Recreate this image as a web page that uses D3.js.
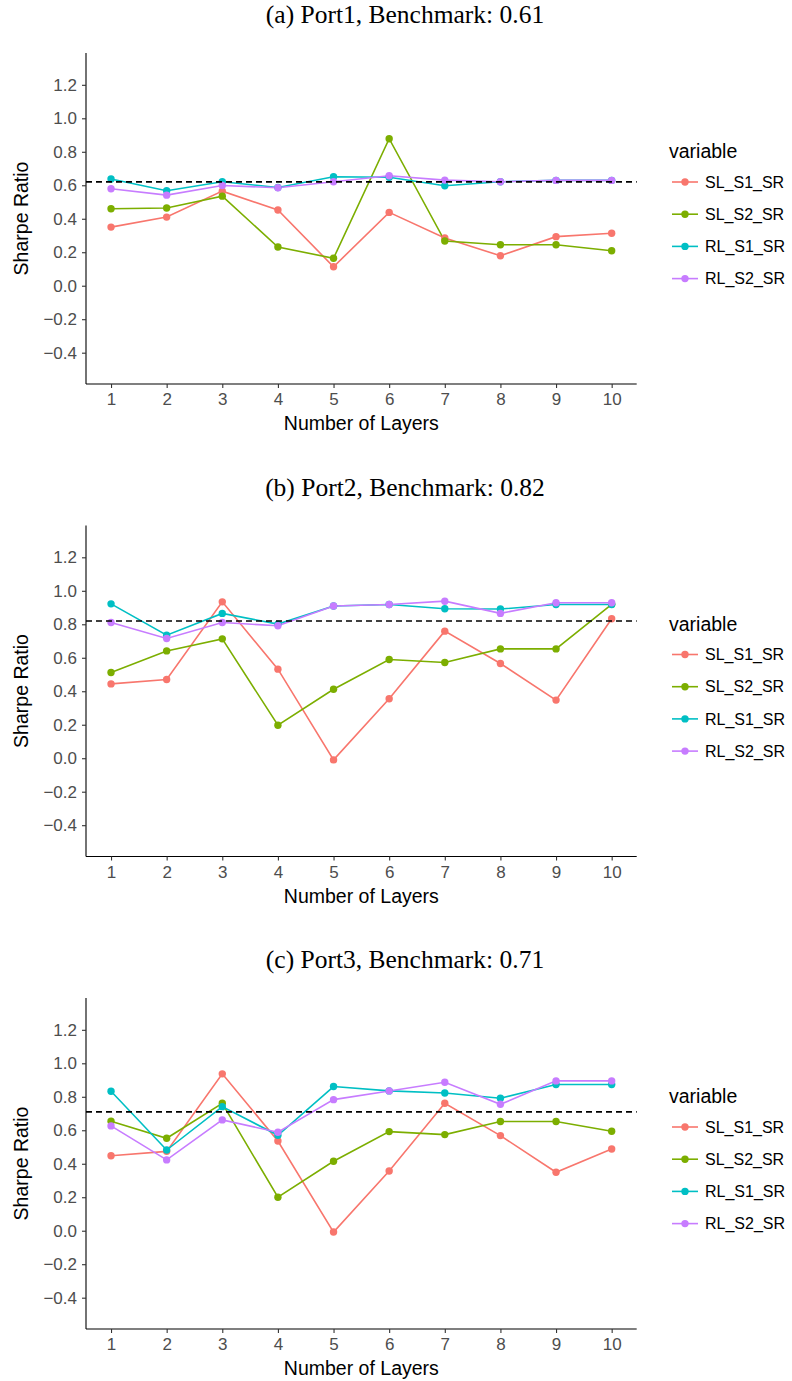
<!DOCTYPE html>
<html>
<head>
<meta charset="utf-8">
<script src="https://cdn.jsdelivr.net/npm/d3@7"></script>
<style>
  body { margin: 0; background: #fff; }
  .axis-title { font-family: "Liberation Sans", Arial, sans-serif; font-size: 19.5px; fill: #000; }
  .panel-title { font-family: "Liberation Serif", "DejaVu Serif", serif; font-size: 25.5px; fill: #000; }
  .legend text { font-family: "Liberation Sans", Arial, sans-serif; fill: #000; }
</style>
</head>
<body>
<div id="chart"></div>
<script>
const layers = [1, 2, 3, 4, 5, 6, 7, 8, 9, 10];
const seriesNames = ["SL_S1_SR", "SL_S2_SR", "RL_S1_SR", "RL_S2_SR"];
const seriesColors = ["#F8766D", "#7CAE00", "#00BFC4", "#C77CFF"];
const yTicks = [-0.4, -0.2, 0.0, 0.2, 0.4, 0.6, 0.8, 1.0, 1.2];

const panelTitles = ["(a) Port1, Benchmark: 0.61", "(b) Port2, Benchmark: 0.82", "(c) Port3, Benchmark: 0.71"];
const benchmarks = [0.62, 0.82, 0.71];

// Sharpe ratios per panel, one array per series (in seriesNames order)
const port1 = [
  [0.35, 0.41, 0.565, 0.452, 0.113, 0.438, 0.285, 0.179, 0.293, 0.313],
  [0.46, 0.464, 0.535, 0.231, 0.164, 0.878, 0.267, 0.245, 0.245, 0.209],
  [0.637, 0.567, 0.621, 0.587, 0.651, 0.648, 0.597, 0.621, 0.629, 0.629],
  [0.579, 0.541, 0.599, 0.585, 0.621, 0.657, 0.631, 0.621, 0.629, 0.629]
];
const port2 = [
  [0.444, 0.47, 0.934, 0.532, -0.01, 0.355, 0.759, 0.566, 0.347, 0.833],
  [0.512, 0.641, 0.713, 0.197, 0.412, 0.59, 0.572, 0.653, 0.653, 0.919],
  [0.922, 0.735, 0.865, 0.801, 0.909, 0.918, 0.893, 0.891, 0.918, 0.918],
  [0.811, 0.715, 0.811, 0.791, 0.909, 0.918, 0.938, 0.865, 0.929, 0.929]
];
const port3 = [
  [0.448, 0.474, 0.937, 0.536, -0.008, 0.357, 0.761, 0.568, 0.349, 0.488],
  [0.654, 0.552, 0.761, 0.2, 0.415, 0.592, 0.574, 0.652, 0.652, 0.594],
  [0.833, 0.482, 0.741, 0.57, 0.861, 0.835, 0.823, 0.791, 0.873, 0.873],
  [0.626, 0.423, 0.662, 0.588, 0.783, 0.835, 0.887, 0.755, 0.895, 0.895]
];
const ports = [port1, port2, port3];

const width = 792, height = 1381;
const panelStep = 472.5;
const margin = {top: 53, left: 86, right: 155.3, bottom: 88.5};
const plotW = width - margin.left - margin.right,
  plotH = 331;

const svg = d3.select("#chart").append("svg")
  .attr("width", width)
  .attr("height", height);

const x = d3.scaleLinear().domain([0.55, 10.45]).range([0, plotW]);
const y = d3.scaleLinear().domain([-0.587, 1.39]).range([plotH, 0]);

const line = d3.line()
  .x((d, i) => x(layers[i]))
  .y(d => y(d));

function styleTicks(sel) {
  sel.attr("font-size", null).attr("font-family", null);
  sel.selectAll(".tick line").attr("stroke", "#333").attr("stroke-width", 1.1);
  sel.selectAll(".tick text")
    .attr("font-family", "Liberation Sans, Arial, sans-serif")
    .attr("font-size", 17)
    .attr("fill", "#4d4d4d");
}

ports.forEach((port, p) => {
  const g = svg.append("g")
    .attr("transform", "translate(" + margin.left + "," + (margin.top + p * panelStep) + ")");

  // title
  svg.append("text")
    .attr("class", "panel-title")
    .attr("x", 405)
    .attr("y", 23 + p * panelStep)
    .attr("text-anchor", "middle")
    .text(panelTitles[p]);

  // axes
  const yAxis = g.append("g")
    .call(d3.axisLeft(y).tickValues(yTicks).tickSize(4).tickPadding(5).tickFormat(d3.format(".1f")));
  yAxis.select(".domain").attr("stroke", "#000").attr("stroke-width", 1.1).attr("d", "M0," + plotH + "V0");
  styleTicks(yAxis);

  const xAxis = g.append("g")
    .attr("transform", "translate(0," + plotH + ")")
    .call(d3.axisBottom(x).tickValues(layers).tickSize(4).tickPadding(5).tickFormat(d3.format("d")));
  xAxis.select(".domain").attr("stroke", "#000").attr("stroke-width", 1.1).attr("d", "M0,0H" + plotW);
  styleTicks(xAxis);

  // axis titles
  g.append("text")
    .attr("class", "axis-title")
    .attr("x", plotW / 2)
    .attr("y", plotH + 46)
    .attr("text-anchor", "middle")
    .text("Number of Layers");

  g.append("text")
    .attr("class", "axis-title")
    .attr("transform", "translate(-58," + (plotH / 2) + ")rotate(-90)")
    .attr("text-anchor", "middle")
    .text("Sharpe Ratio");

  // series
  port.forEach((vals, s) => {
    g.append("path")
      .datum(vals)
      .attr("fill", "none")
      .attr("stroke", seriesColors[s])
      .attr("stroke-width", 1.6)
      .attr("d", line);
  });
  port.forEach((vals, s) => {
    g.selectAll(null)
      .data(vals)
      .enter().append("circle")
      .attr("cx", (d, i) => x(layers[i]))
      .attr("cy", d => y(d))
      .attr("r", 3.7)
      .attr("fill", seriesColors[s]);
  });

  // benchmark
  g.append("line")
    .attr("x1", 0).attr("x2", plotW)
    .attr("y1", y(benchmarks[p])).attr("y2", y(benchmarks[p]))
    .attr("stroke", "#000")
    .attr("stroke-width", 1.6)
    .attr("stroke-dasharray", "6,4");

  // legend
  const legend = svg.append("g")
    .attr("class", "legend")
    .attr("transform", "translate(669," + (152 + p * panelStep) + ")");
  legend.append("text")
    .attr("x", 0).attr("y", 6)
    .style("font-size", "19.5px")
    .text("variable");
  const rows = legend.selectAll(".row")
    .data(seriesNames)
    .enter().append("g")
    .attr("class", "row")
    .attr("transform", (d, i) => "translate(0," + (30 + i * 32.2) + ")");
  rows.append("line")
    .attr("x1", 3).attr("x2", 29)
    .attr("stroke", (d, i) => seriesColors[i])
    .attr("stroke-width", 1.6);
  rows.append("circle")
    .attr("cx", 16).attr("r", 3.7)
    .attr("fill", (d, i) => seriesColors[i]);
  rows.append("text")
    .attr("x", 36).attr("dy", "0.35em")
    .style("font-size", "16px")
    .text(d => d);
});
</script>
</body>
</html>
